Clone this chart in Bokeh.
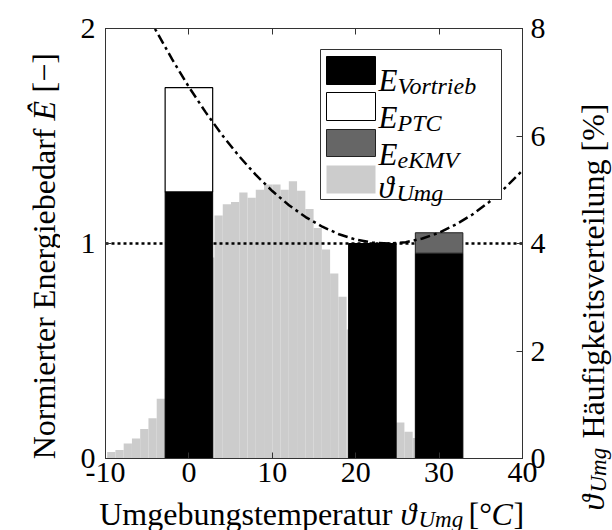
from math import pi

from bokeh.plotting import figure
from bokeh.layouts import row, column
from bokeh.models import Range1d, LinearAxis, FixedTicker, Label, BoxAnnotation
from bokeh.core.properties import value
from bokeh.embed import file_html
from bokeh.resources import INLINE

# ---------------- data ----------------
# ambient temperature distribution: bin left edges [°C] and share of time [%]
hist_left = [-9.80, -8.81, -7.82, -6.83, -5.84, -4.85, -3.86, -2.87, -1.88, -0.89,
             0.10, 1.09, 2.08, 3.07, 4.06, 5.05, 6.04, 7.03, 8.02, 9.01,
             10.00, 10.99, 11.98, 12.97, 13.96, 14.95, 15.94, 16.93, 17.92, 18.91,
             19.90, 20.89, 21.88, 22.87, 23.86, 24.85, 25.84, 26.83]
hist_pct = [0.12, 0.16, 0.28, 0.37, 0.55, 0.75, 1.11, 1.50, 1.90, 2.40,
            2.90, 3.30, 3.74, 4.52, 4.73, 4.77, 4.95, 4.85, 5.00, 5.10,
            5.10, 5.00, 5.16, 4.98, 4.64, 4.29, 3.89, 3.44, 3.01, 2.40,
            2.00, 1.60, 1.20, 0.90, 0.80, 0.67, 0.50, 0.38]
hist_bin_width = 0.99

# normalised energy demand at three ambient temperatures
scen_temp = [0, 22, 30]
e_vortrieb = [1.24, 1.00, 0.955]
e_ptc = [0.485, 0.0, 0.0]
e_ekmv = [0.0, 0.0, 0.095]

# fitted demand curve over ambient temperature
curve_temp = [-6, -4, -2, 0, 2, 4, 6, 8, 10, 12, 14, 16, 18, 20,
              22, 24, 26, 28, 30, 32, 34, 36, 38, 40]
curve_e = [2.143, 1.994, 1.856, 1.728, 1.611, 1.504, 1.407, 1.320, 1.244,
           1.178, 1.123, 1.078, 1.043, 1.018, 1.004, 1.000, 1.006, 1.023,
           1.050, 1.088, 1.135, 1.193, 1.262, 1.340]

ref_level = 1.0

x_ticks = [-10, 0, 10, 20, 30, 40]
e_ticks = [0, 1, 2]
pct_ticks = [0, 2, 4, 6, 8]

# ---------------- style ----------------
FONT = "Liberation Serif"
TICK_PX = "30px"
LABEL_PX = 32
SUB_PX = 23
BAR_W = 5.7
AX_COL = "#333333"

# page geometry: left strip | (plot over bottom strip) | right strip
LEFT_W, MAIN_W, RIGHT_W = 60, 500, 52
MAIN_H, BOTTOM_H, PAGE_H = 500, 30, 530

p = figure(width=MAIN_W, height=MAIN_H, x_range=Range1d(-10, 40), y_range=Range1d(0, 2),
           output_backend="svg", toolbar_location=None, title=None,
           min_border_left=45, min_border_right=38, min_border_top=28,
           min_border_bottom=42, frame_align=False)
p.extra_y_ranges = {"pct": Range1d(0, 8)}
p.xgrid.visible = False
p.ygrid.visible = False
p.outline_line_color = AX_COL
p.background_fill_color = "white"
p.border_fill_color = "white"

# histogram of ambient temperature (right axis)
hist_right = [l + hist_bin_width for l in hist_left]
p.quad(left=hist_left, right=hist_right, bottom=0, top=hist_pct,
       y_range_name="pct", fill_color="#cccccc", line_color=None)

# reference level
p.line(x=[-10, 40], y=[ref_level, ref_level], line_color="black",
       line_width=2.5, line_dash="3 3")


# stacked energy bars
def seg(vals, base):
    xs, bots, tops = [], [], []
    for t, v, b in zip(scen_temp, vals, base):
        if v > 0:
            xs.append(t)
            bots.append(b)
            tops.append(b + v)
    return xs, bots, tops


zero = [0.0] * len(scen_temp)
xs, b, t = seg(e_vortrieb, zero)
p.vbar(x=xs, width=BAR_W, bottom=b, top=t, fill_color="black", line_color="black")
xs, b, t = seg(e_ptc, e_vortrieb)
p.vbar(x=xs, width=BAR_W, bottom=b, top=t, fill_color="white", line_color="black",
       line_width=1.2)
base3 = [a + c for a, c in zip(e_vortrieb, e_ptc)]
xs, b, t = seg(e_ekmv, base3)
p.vbar(x=xs, width=BAR_W, bottom=b, top=t, fill_color="#666666", line_color="#222222",
       line_width=1.0)

# demand curve
p.line(x=curve_temp, y=curve_e, line_color="black", line_width=2.5,
       line_dash="10 4 3 4")


# ---------------- axes ----------------
def style_axis(ax):
    ax.axis_line_color = AX_COL
    ax.major_tick_line_color = AX_COL
    ax.major_tick_in = 6
    ax.major_tick_out = 0
    ax.minor_tick_line_color = None
    ax.major_label_text_font = FONT
    ax.major_label_text_font_size = TICK_PX
    ax.major_label_text_color = "black"


xa = p.xaxis[0]
xa.ticker = FixedTicker(ticks=x_ticks)
xa.major_label_overrides = {-10: "-10"}
xa.major_label_standoff = 4
style_axis(xa)

ya = p.yaxis[0]
ya.ticker = FixedTicker(ticks=e_ticks)
ya.major_label_standoff = 10
style_axis(ya)

ra = LinearAxis(y_range_name="pct", ticker=FixedTicker(ticks=pct_ticks))
style_axis(ra)
ra.major_label_standoff = 8
p.add_layout(ra, "right")

ta = LinearAxis(ticker=FixedTicker(ticks=x_ticks))
style_axis(ta)
ta.major_label_text_font_size = "0px"
ta.major_label_text_color = None
p.add_layout(ta, "above")

# ---------------- legend (frame-relative screen units) ----------------
FL, FB = LEFT_W + 45, 458  # frame left / bottom in page pixels


def put(px, py, text, size, style="normal"):
    p.add_layout(Label(x=px - FL, y=FB - py, x_units="screen", y_units="screen",
                       text=text, text_font=FONT, text_font_size=f"{size}px",
                       text_font_style=style, text_align="left",
                       text_baseline="alphabetic", text_color="black"))


def box(l, r, tp, bt, fill, line):
    p.add_layout(BoxAnnotation(left=l - FL, right=r - FL, top=FB - tp, bottom=FB - bt,
                               left_units="screen", right_units="screen",
                               top_units="screen", bottom_units="screen",
                               fill_color=fill, fill_alpha=1.0, line_color=line,
                               line_alpha=1.0, line_width=1))


box(320, 501, 49, 199, "white", AX_COL)
swatches = [(56, 84, "black", "black"), (92, 120, "white", "black"),
            (129, 156, "#666666", "#222222"), (165, 193, "#cccccc", None)]
for tp, bt, fc, lc in swatches:
    box(326, 375, tp, bt, fc, lc)

leg_main = ["E", "E", "E", "ϑ"]
leg_sub = ["Vortrieb", "PTC", "eKMV", "Umg"]
leg_base = [80, 117, 154, 187]
for m, s, bl in zip(leg_main, leg_sub, leg_base):
    put(378, bl, m, 31, "italic")
    put(378 + (19 if m == "E" else 18), bl + 5, s, 24, "italic")


# ---------------- axis titles in narrow text strips ----------------
def strip(w, h):
    s = figure(width=w, height=h, x_range=Range1d(0, w), y_range=Range1d(0, h),
               output_backend="svg", toolbar_location=None, min_border=0,
               title=None, x_axis_location=None, y_axis_location=None,
               frame_align=False)
    s.grid.visible = False
    s.outline_line_color = None
    s.border_fill_color = "white"
    s.background_fill_color = "white"
    return s


def txt(s, x, y, text, size, style="normal", angle=0.0, align="left",
        baseline="alphabetic"):
    s.text(x=[x], y=[y], text=[text], text_font=value(FONT),
           text_font_size=f"{size}px", text_font_style=style, text_align=align,
           text_baseline=baseline, angle=angle, text_color="black")


# left strip: page x 0..60, y 0..530 (strip y = 530 - page y)
ls = strip(LEFT_W, PAGE_H)
lx = 43
txt(ls, lx, PAGE_H - 128, "Normierter Energiebedarf", LABEL_PX, angle=pi / 2,
    align="right")
txt(ls, lx, PAGE_H - 120, "Ê", LABEL_PX, "italic", angle=pi / 2)
txt(ls, lx, PAGE_H - 92, "[−]", LABEL_PX, angle=pi / 2)

# bottom strip: page x 60..560, text hung from the strip's top edge
bs = strip(MAIN_W, BOTTOM_H)
main_top = BOTTOM_H + 5
sub_top = BOTTOM_H - 6
bx = 392 - LEFT_W
txt(bs, bx, main_top, "Umgebungstemperatur", LABEL_PX, align="right", baseline="top")
txt(bs, bx + 8, main_top, "ϑ", LABEL_PX, "italic", baseline="top")
txt(bs, bx + 26, sub_top, "Umg", SUB_PX, "italic", baseline="top")
txt(bs, bx + 76, main_top, "[°", LABEL_PX, baseline="top")
txt(bs, bx + 99, main_top, "C", LABEL_PX, "italic", baseline="top")
txt(bs, bx + 121, main_top, "]", LABEL_PX, baseline="top")

# right strip: page x 560..612, y 0..530
rs = strip(RIGHT_W, PAGE_H)
rx = 592 - (LEFT_W + MAIN_W)
txt(rs, rx, PAGE_H - 510, "ϑ", LABEL_PX, "italic", angle=pi / 2)
txt(rs, rx + 6, PAGE_H - 492, "Umg", SUB_PX, "italic", angle=pi / 2)
txt(rs, rx, PAGE_H - 438, "Häufigkeitsverteilung [%]", LABEL_PX, angle=pi / 2)

page = row(ls, column(p, bs, spacing=0), rs, spacing=0)

open("out.html", "w").write(file_html(page, INLINE))
